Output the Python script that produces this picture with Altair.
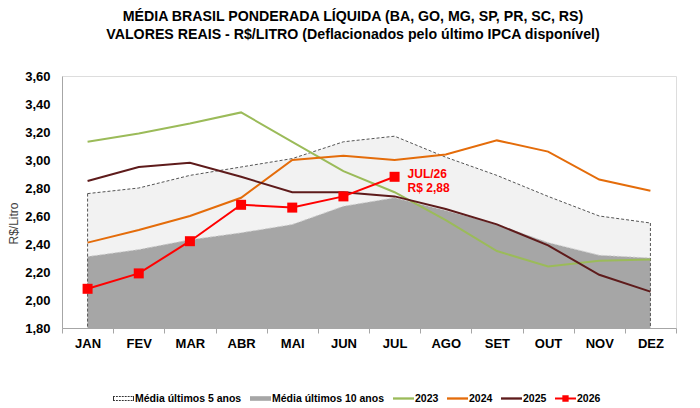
import altair as alt
import pandas as pd
import numpy as np

months = ["JAN", "FEV", "MAR", "ABR", "MAI", "JUN", "JUL", "AGO", "SET", "OUT", "NOV", "DEZ"]
avg5 = [2.76, 2.80, 2.89, 2.95, 3.01, 3.13, 3.17, 3.02, 2.89, 2.74, 2.60, 2.55]
avg10 = [2.31, 2.36, 2.43, 2.48, 2.54, 2.67, 2.73, 2.64, 2.54, 2.41, 2.32, 2.30]
s2023 = [3.13, 3.19, 3.26, 3.34, 3.13, 2.92, 2.77, 2.57, 2.35, 2.24, 2.28, 2.29]
s2024 = [2.41, 2.50, 2.60, 2.73, 3.00, 3.03, 3.00, 3.04, 3.14, 3.06, 2.86, 2.78]
s2025 = [2.85, 2.95, 2.98, 2.88, 2.77, 2.77, 2.74, 2.65, 2.54, 2.39, 2.18, 2.06]
s2026 = [2.08, 2.19, 2.42, 2.68, 2.66, 2.74, 2.88]

legend_names = ["Média últimos 5 anos", "Média últimos 10 anos", "2023", "2024", "2025", "2026"]
y_ticks = [1.8, 2.0, 2.2, 2.4, 2.6, 2.8, 3.0, 3.2, 3.4, 3.6]
annot_month = "JUL"
annot_value = 2.88
annot_text = ["JUL/26", "R$ 2,88"]
title_lines = ["MÉDIA BRASIL PONDERADA LÍQUIDA (BA, GO, MG, SP, PR, SC, RS)",
               "VALORES REAIS - R$/LITRO (Deflacionados pelo último IPCA disponível)"]

FONT = "Liberation Sans"
colors = ["#333333", "#a6a6a6", "#9bbb59", "#e46c0a", "#5e1b1b", "#ff0000"]
line_names = ["2023", "2024", "2025", "2026"]
line_colors = ["#9bbb59", "#e46c0a", "#5e1b1b", "#ff0000"]


def rect(x0, y0, x1, y1):
    return f"M{x0:.3f},{y0:.3f}H{x1:.3f}V{y1:.3f}H{x0:.3f}Z"


dash5 = "".join(rect(x, -0.24, min(x + 0.18, 1), -0.145) + rect(x, 0.145, min(x + 0.18, 1), 0.24)
                for x in np.arange(-1, 1, 0.28))
dash5 += rect(-1, -0.24, -0.905, 0.24) + rect(0.905, -0.24, 1, 0.24)
shapes = [
    dash5,
    rect(-1, -0.22, 1, 0.22),
    rect(-1, -0.11, 1, 0.11),
    rect(-1, -0.11, 1, 0.11),
    rect(-1, -0.11, 1, 0.11),
    rect(-1, -0.1, 1, 0.1) + rect(-0.3, -0.3, 0.3, 0.3),
]

avg_df = pd.DataFrame({"month": months, "avg5": avg5, "avg10": avg10})
edge_df = avg_df[avg_df["month"].isin([months[0], months[-1]])]

rows = []
for name, vals in zip(line_names, [s2023, s2024, s2025, s2026]):
    for m, v in zip(months, vals):
        rows.append({"month": m, "value": v, "series": name})
lines_df = pd.DataFrame(rows)
pts_df = lines_df[lines_df["series"] == "2026"]
annot_df = pd.DataFrame({"month": [annot_month], "value": [annot_value], "label": [annot_text]})

x_enc = alt.X("month:N", sort=months,
              scale=alt.Scale(type="band", domain=months, paddingInner=0, paddingOuter=0),
              axis=alt.Axis(title=None, labelFont=FONT, labelFontSize=13, labelFontWeight="bold",
                            labelColor="black", labelAngle=0, domainColor="#a6a6a6", tickColor="#a6a6a6",
                            tickSize=5, labelPadding=4, tickBand="extent", grid=False))
y_scale = alt.Scale(domain=[1.8, 3.6], zero=False, nice=False)
y_axis = alt.Axis(title="R$/Litro", values=y_ticks, tickCount=20, labelOverlap=False,
                  labelExpr="replace(format(datum.value, '.2f'), '.', ',')",
                  labelFont=FONT, labelFontSize=13, labelFontWeight="bold", labelColor="black",
                  ticks=False, labelPadding=12, domainColor="#a6a6a6", grid=False,
                  titleFont=FONT, titleFontSize=12, titleFontWeight="normal", titleColor="#404040",
                  titleX=-49, titleY=147, titleAngle=-90, titleAlign="center", titleBaseline="middle")

base_avg = alt.Chart(avg_df)
area5 = base_avg.mark_area(color="#f2f2f2").encode(
    x=x_enc, y=alt.Y("avg5:Q", scale=y_scale, axis=y_axis), y2=alt.datum(1.8))
area10 = base_avg.mark_area(color="#a6a6a6").encode(x=x_enc, y="avg10:Q", y2=alt.datum(1.8))
line10 = base_avg.mark_line(color="#d0d0d0", strokeWidth=1, strokeDash=[2, 2]).encode(x=x_enc, y="avg10:Q")
line5 = base_avg.mark_line(color="#555555", strokeWidth=1, strokeDash=[3, 2]).encode(x=x_enc, y="avg5:Q")
edges5 = alt.Chart(edge_df).mark_rule(color="#555555", strokeWidth=1, strokeDash=[3, 2]).encode(
    x=x_enc, y="avg5:Q", y2=alt.datum(1.8))

lines = alt.Chart(lines_df).mark_line(strokeWidth=2).encode(
    x=x_enc, y="value:Q",
    stroke=alt.Stroke("series:N", scale=alt.Scale(domain=line_names, range=line_colors), legend=None))
points = alt.Chart(pts_df).mark_point(shape="square", filled=True, size=100, opacity=1, color="#ff0000").encode(
    x=x_enc, y="value:Q")

leg = alt.Legend(title=None, orient="none", legendX=51, legendY=312, direction="horizontal",
                 labelFont=FONT, labelFontSize=10.5, labelFontWeight="bold", labelColor="black",
                 symbolSize=441, symbolOpacity=1, symbolStrokeWidth=0, labelOffset=1,
                 columnPadding=8)
legend_layer = alt.Chart(pts_df).mark_point(filled=True, opacity=0).encode(
    x=x_enc, y="value:Q",
    color=alt.Color("series:N", scale=alt.Scale(domain=legend_names, range=colors), legend=leg),
    shape=alt.Shape("series:N", scale=alt.Scale(domain=legend_names, range=shapes), legend=leg))

annot = alt.Chart(annot_df).mark_text(align="left", baseline="middle", dx=13, dy=-3, font=FONT,
                                      fontSize=12, fontWeight="bold", color="#ff0000",
                                      lineHeight=14).encode(x=x_enc, y="value:Q", text="label")

chart = alt.layer(area5, area10, line10, line5, edges5, lines, points, legend_layer, annot).properties(
    width=614, height=252,
    title=alt.Title(text=title_lines, font=FONT, fontSize=14.2, fontWeight="bold", color="black",
                    anchor="middle", frame="group", dx=-16, offset=28, lineHeight=18),
    autosize=alt.AutoSizeParams(type="none"),
    padding={"left": 54, "top": 68, "right": 16, "bottom": 78},
).resolve_scale(color="independent", shape="independent").configure_view(stroke=None).configure(background="white")

chart.save("out.html", embed_options={"renderer": "svg", "actions": False})
